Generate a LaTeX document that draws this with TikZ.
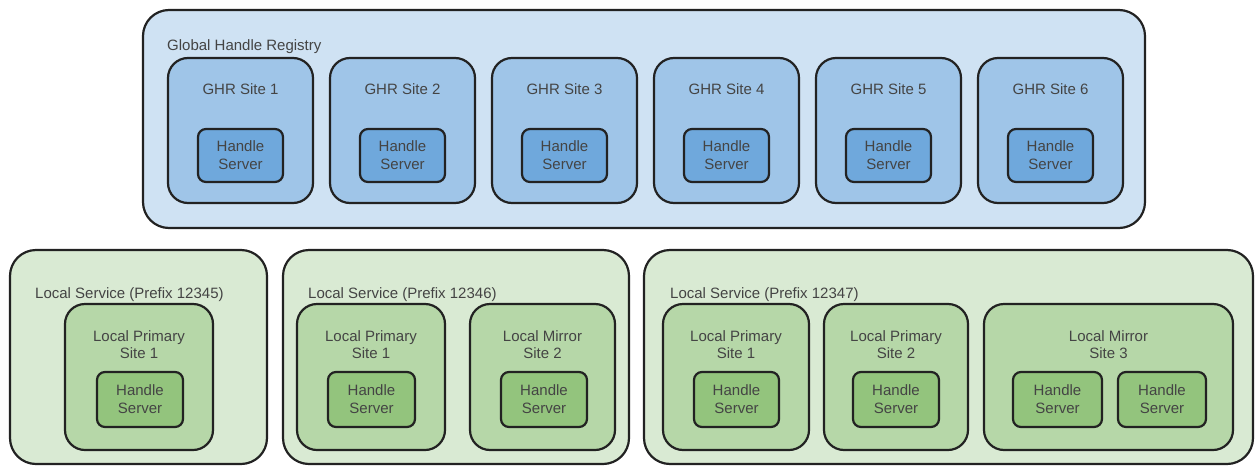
\documentclass[tikz,border=0pt]{standalone}
\usepackage{fontspec}
\setmainfont{Liberation Sans}
\definecolor{bordc}{HTML}{222222}
\definecolor{txtc}{HTML}{444444}
\definecolor{blueA}{HTML}{CFE2F3}
\definecolor{blueB}{HTML}{9FC5E8}
\definecolor{blueC}{HTML}{6FA8DC}
\definecolor{greenA}{HTML}{D9EAD3}
\definecolor{greenB}{HTML}{B6D7A8}
\definecolor{greenC}{HTML}{93C47D}
\tikzset{
  boxbase/.style={draw=bordc, line width=2.2pt, inner sep=0pt, rectangle},
  outerbox/.style={boxbase, rounded corners=26pt},
  sitebox/.style={boxbase, rounded corners=20pt, minimum height=146pt},
  hsbox/.style={boxbase, rounded corners=8pt, text=txtc, align=center,
     font=\fontsize{15}{18}\selectfont},
  lbl/.style={text=txtc, inner sep=0pt, font=\fontsize{15}{17}\selectfont, align=center},
}
\begin{document}
\begin{tikzpicture}[x=1pt,y=-1pt]
\useasboundingbox (0,0) rectangle (1255,466);
% ---------- Global Handle Registry ----------
\node[outerbox, fill=blueA, minimum width=1002pt, minimum height=218pt] (ghr) at (644,119) {};
\node[lbl, anchor=base west] (ghrt) at (167,50) {Global Handle Registry};
\foreach \i in {1,...,6}{
  \pgfmathsetmacro{\cx}{240.5+162*(\i-1)}
  \node[sitebox, fill=blueB, minimum width=145pt, minimum height=145pt] (g\i) at (\cx,130.5) {};
  \node[lbl, anchor=base] (g\i t) at (\cx,94) {GHR Site \i};
  \node[hsbox, fill=blueC, minimum width=85pt, minimum height=53pt] (g\i hs) at (\cx,155.5) {Handle\\Server};
}
% ---------- Local Service 12345 ----------
\node[outerbox, fill=greenA, minimum width=257pt, minimum height=214pt] (ls1) at (138.5,357) {};
\node[lbl, anchor=base west] (ls1t) at (35,298) {Local Service (Prefix 12345)};
\node[sitebox, fill=greenB, minimum width=148pt] (ls1a) at (139,377) {};
\node[lbl] (ls1at) at (139,345) {Local Primary\\Site 1};
\node[hsbox, fill=greenC, minimum width=86pt, minimum height=55pt] (ls1ahs) at (140,399.5) {Handle\\Server};
% ---------- Local Service 12346 ----------
\node[outerbox, fill=greenA, minimum width=346pt, minimum height=214pt] (ls2) at (456,357) {};
\node[lbl, anchor=base west] (ls2t) at (308,298) {Local Service (Prefix 12346)};
\node[sitebox, fill=greenB, minimum width=148pt] (ls2a) at (371,377) {};
\node[lbl] (ls2at) at (371,345) {Local Primary\\Site 1};
\node[hsbox, fill=greenC, minimum width=87pt, minimum height=55pt] (ls2ahs) at (371.5,399.5) {Handle\\Server};
\node[sitebox, fill=greenB, minimum width=145pt] (ls2b) at (542.5,377) {};
\node[lbl] (ls2bt) at (542.5,345) {Local Mirror\\Site 2};
\node[hsbox, fill=greenC, minimum width=86pt, minimum height=55pt] (ls2bhs) at (544,399.5) {Handle\\Server};
% ---------- Local Service 12347 ----------
\node[outerbox, fill=greenA, minimum width=609pt, minimum height=214pt] (ls3) at (948.5,357) {};
\node[lbl, anchor=base west] (ls3t) at (670,298) {Local Service (Prefix 12347)};
\node[sitebox, fill=greenB, minimum width=146pt] (ls3a) at (736,377) {};
\node[lbl] (ls3at) at (736,345) {Local Primary\\Site 1};
\node[hsbox, fill=greenC, minimum width=85pt, minimum height=55pt] (ls3ahs) at (736.5,399.5) {Handle\\Server};
\node[sitebox, fill=greenB, minimum width=144pt] (ls3b) at (896,377) {};
\node[lbl] (ls3bt) at (896,345) {Local Primary\\Site 2};
\node[hsbox, fill=greenC, minimum width=86pt, minimum height=55pt] (ls3bhs) at (896,399.5) {Handle\\Server};
\node[sitebox, fill=greenB, minimum width=249pt] (ls3c) at (1108.5,377) {};
\node[lbl] (ls3ct) at (1108.5,345) {Local Mirror\\Site 3};
\node[hsbox, fill=greenC, minimum width=89pt, minimum height=55pt] (ls3chs1) at (1057.5,399.5) {Handle\\Server};
\node[hsbox, fill=greenC, minimum width=88pt, minimum height=55pt] (ls3chs2) at (1162,399.5) {Handle\\Server};
\end{tikzpicture}
\end{document}
